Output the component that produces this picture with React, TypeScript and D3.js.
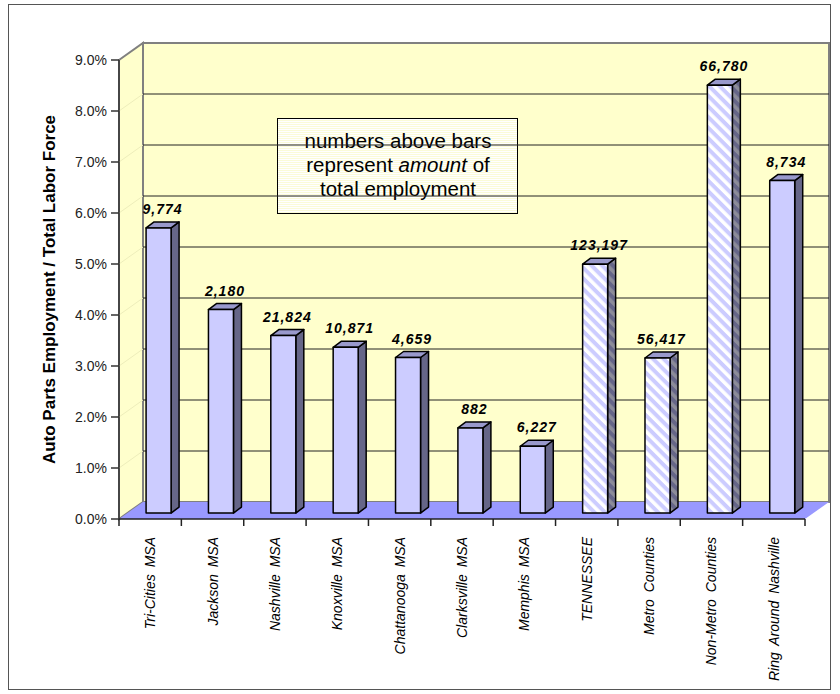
// 3D-style column chart: auto parts employment share by Tennessee region
import React, { useEffect, useRef } from 'react';
import * as d3 from 'd3';

const categories = [
  'Tri-Cities MSA',
  'Jackson MSA',
  'Nashville MSA',
  'Knoxville MSA',
  'Chattanooga MSA',
  'Clarksville MSA',
  'Memphis MSA',
  'TENNESSEE',
  'Metro Counties',
  'Non-Metro Counties',
  'Ring Around Nashville',
];
// share of total labor force, in percent
const shares = [5.59, 3.99, 3.48, 3.25, 3.05, 1.67, 1.31, 4.88, 3.04, 8.39, 6.52];
const employment = ['9,774', '2,180', '21,824', '10,871', '4,659', '882', '6,227', '123,197', '56,417', '66,780', '8,734'];
const hatched = [false, false, false, false, false, false, false, true, true, true, false];
const yTicks = [0, 1, 2, 3, 4, 5, 6, 7, 8, 9];
const noteLines = ['numbers above bars', 'represent |amount| of', 'total employment'];

const FONT = 'Liberation Sans, Arial, Helvetica, sans-serif';

const App: React.FC = () => {
  const svgRef = useRef<SVGSVGElement>(null);

  useEffect(() => {
    const svg = d3.select(svgRef.current);
    svg.selectAll('*').remove();

    const width = 840;
    const height = 694;
    const margin = { top: 60, right: 35, bottom: 175, left: 119 };
    const depth = { dx: 24, dy: -17 }; // wall depth offset
    const barDepth = { dx: 8, dy: -6 };
    const barShift = 0.35; // bars sit this far back into the depth

    const x = d3
      .scaleBand<string>()
      .domain(categories)
      .range([margin.left, width - margin.right]);
    const y = d3
      .scaleLinear()
      .domain([0, 9])
      .range([height - margin.bottom, margin.top]);

    const x0 = margin.left;
    const x1 = width - margin.right;
    const yTop = y(9);
    const yBase = y(0);

    // patterns
    const defs = svg.append('defs');
    const hatchFront = defs
      .append('pattern')
      .attr('id', 'hatchFront')
      .attr('patternUnits', 'userSpaceOnUse')
      .attr('width', 7.5)
      .attr('height', 7.5)
      .attr('patternTransform', 'rotate(-45)');
    hatchFront.append('rect').attr('width', 7.5).attr('height', 7.5).attr('fill', '#ccccff');
    hatchFront.append('rect').attr('width', 3.5).attr('height', 7.5).attr('fill', '#ffffff');

    const hatchSide = defs
      .append('pattern')
      .attr('id', 'hatchSide')
      .attr('patternUnits', 'userSpaceOnUse')
      .attr('width', 7.5)
      .attr('height', 7.5)
      .attr('patternTransform', 'rotate(-45)');
    hatchSide.append('rect').attr('width', 7.5).attr('height', 7.5).attr('fill', '#666688');
    hatchSide.append('rect').attr('width', 3.5).attr('height', 7.5).attr('fill', '#8c8c99');

    const boxFill = defs
      .append('pattern')
      .attr('id', 'boxFill')
      .attr('patternUnits', 'userSpaceOnUse')
      .attr('width', 4)
      .attr('height', 2);
    boxFill.append('rect').attr('width', 4).attr('height', 2).attr('fill', '#ffffff');
    boxFill.append('rect').attr('width', 4).attr('height', 1).attr('fill', '#fbfbd8');

    // outer border
    svg
      .append('rect')
      .attr('x', 8.5)
      .attr('y', 4.5)
      .attr('width', 822)
      .attr('height', 685)
      .attr('fill', '#fff')
      .attr('stroke', '#555')
      .attr('stroke-width', 1);

    const pts = (p: [number, number][]) => p.map((d) => d.join(',')).join(' ');

    // back wall
    svg
      .append('polygon')
      .attr('points', pts([
        [x0 + depth.dx, yTop + depth.dy],
        [x1 + depth.dx, yTop + depth.dy],
        [x1 + depth.dx, yBase + depth.dy],
        [x0 + depth.dx, yBase + depth.dy],
      ]))
      .attr('fill', '#ffffcc')
      .attr('stroke', '#808080')
      .attr('stroke-width', 2);

    // left wall
    svg
      .append('polygon')
      .attr('points', pts([
        [x0, yTop],
        [x0 + depth.dx, yTop + depth.dy],
        [x0 + depth.dx, yBase + depth.dy],
        [x0, yBase],
      ]))
      .attr('fill', '#ffffcc')
      .attr('stroke', '#808080')
      .attr('stroke-width', 2);

    // floor
    svg
      .append('polygon')
      .attr('points', pts([
        [x0, yBase],
        [x1, yBase],
        [x1 + depth.dx, yBase + depth.dy],
        [x0 + depth.dx, yBase + depth.dy],
      ]))
      .attr('fill', '#9999ff');

    // note box (gridlines run over it)
    const box = svg.append('g');
    box
      .append('rect')
      .attr('x', 277.5)
      .attr('y', 118.5)
      .attr('width', 240)
      .attr('height', 95)
      .attr('fill', 'url(#boxFill)')
      .attr('stroke', '#000')
      .attr('stroke-width', 1);
    noteLines.forEach((line, i) => {
      const t = box
        .append('text')
        .attr('x', 398)
        .attr('y', 148 + i * 24)
        .attr('text-anchor', 'middle')
        .style('font-family', FONT)
        .style('font-size', '20.5px')
        .attr('fill', '#000');
      line.split('|').forEach((part, j) => {
        t.append('tspan')
          .style('font-style', j === 1 ? 'italic' : 'normal')
          .text(part);
      });
    });

    // gridlines: back wall and faint ones on the side wall
    yTicks.slice(1, -1).forEach((t) => {
      svg
        .append('line')
        .attr('x1', x0 + depth.dx)
        .attr('x2', x1 + depth.dx)
        .attr('y1', y(t) + depth.dy)
        .attr('y2', y(t) + depth.dy)
        .attr('stroke', '#222')
        .attr('stroke-width', 1);
      svg
        .append('line')
        .attr('x1', x0)
        .attr('x2', x0 + depth.dx)
        .attr('y1', y(t))
        .attr('y2', y(t) + depth.dy)
        .attr('stroke', '#eeeebb')
        .attr('stroke-width', 1);
    });

    // y axis
    const yAxis = svg.append('g');
    yAxis
      .append('line')
      .attr('x1', x0)
      .attr('x2', x0)
      .attr('y1', yTop)
      .attr('y2', yBase)
      .attr('stroke', '#333')
      .attr('stroke-width', 1.5);
    yTicks.forEach((t) => {
      yAxis
        .append('line')
        .attr('x1', x0 - 8)
        .attr('x2', x0)
        .attr('y1', y(t))
        .attr('y2', y(t))
        .attr('stroke', '#333')
        .attr('stroke-width', 1.5);
      yAxis
        .append('text')
        .attr('x', x0 - 12)
        .attr('y', y(t))
        .attr('dy', '0.35em')
        .attr('text-anchor', 'end')
        .style('font-family', FONT)
        .style('font-size', '14px')
        .attr('fill', '#222')
        .text(`${t.toFixed(1)}%`);
    });

    svg
      .append('text')
      .attr('transform', `translate(55, ${(yTop + yBase) / 2}) rotate(-90)`)
      .attr('text-anchor', 'middle')
      .style('font-family', FONT)
      .style('font-size', '17px')
      .style('font-weight', 'bold')
      .attr('fill', '#000')
      .text('Auto Parts Employment / Total Labor Force');

    // x axis
    const xAxis = svg.append('g');
    xAxis
      .append('line')
      .attr('x1', x0)
      .attr('x2', x1)
      .attr('y1', yBase)
      .attr('y2', yBase)
      .attr('stroke', '#222')
      .attr('stroke-width', 1.5);
    [...categories.map((c) => x(c) as number), x1].forEach((tx) => {
      xAxis
        .append('line')
        .attr('x1', tx)
        .attr('x2', tx)
        .attr('y1', yBase)
        .attr('y2', yBase + 7)
        .attr('stroke', '#222')
        .attr('stroke-width', 1.5);
    });
    categories.forEach((c) => {
      const cx = (x(c) as number) + x.bandwidth() / 2;
      xAxis
        .append('text')
        .attr('transform', `translate(${cx + 5}, ${yBase + 18}) rotate(-90)`)
        .attr('text-anchor', 'end')
        .style('font-family', FONT)
        .style('font-size', '14px')
        .style('font-style', 'italic')
        .style('word-spacing', '3px')
        .attr('fill', '#000')
        .text(c);
    });

    // bars
    const barW = 25;
    const offX = depth.dx * barShift;
    const offY = depth.dy * barShift;
    categories.forEach((c, i) => {
      const cx = (x(c) as number) + x.bandwidth() / 2;
      const fx = cx + offX - barW / 2;
      const yb = yBase + offY;
      const yt = y(shares[i]) + offY;
      const g = svg.append('g').attr('stroke', '#000').attr('stroke-width', 1.5).attr('stroke-linejoin', 'round');

      g.append('polygon')
        .attr('points', pts([
          [fx + barW, yt],
          [fx + barW + barDepth.dx, yt + barDepth.dy],
          [fx + barW + barDepth.dx, yb + barDepth.dy],
          [fx + barW, yb],
        ]))
        .attr('fill', hatched[i] ? 'url(#hatchSide)' : '#666688');
      g.append('polygon')
        .attr('points', pts([
          [fx, yt],
          [fx + barDepth.dx, yt + barDepth.dy],
          [fx + barW + barDepth.dx, yt + barDepth.dy],
          [fx + barW, yt],
        ]))
        .attr('fill', '#9999cc');
      g.append('rect')
        .attr('x', fx)
        .attr('y', yt)
        .attr('width', barW)
        .attr('height', yb - yt)
        .attr('fill', hatched[i] ? 'url(#hatchFront)' : '#ccccff');

      svg
        .append('text')
        .attr('x', fx + barW / 2 + 4)
        .attr('y', yt - 14)
        .attr('text-anchor', 'middle')
        .style('font-family', FONT)
        .style('font-size', '14px')
        .style('font-weight', 'bold')
        .style('font-style', 'italic')
        .style('letter-spacing', '1px')
        .attr('fill', '#000')
        .text(employment[i]);
    });
  }, []);

  return (
    <svg
      ref={svgRef}
      width={840}
      height={694}
      style={{ position: 'absolute', left: 0, top: 0, display: 'block', background: '#fff' }}
    />
  );
};

export default App;
